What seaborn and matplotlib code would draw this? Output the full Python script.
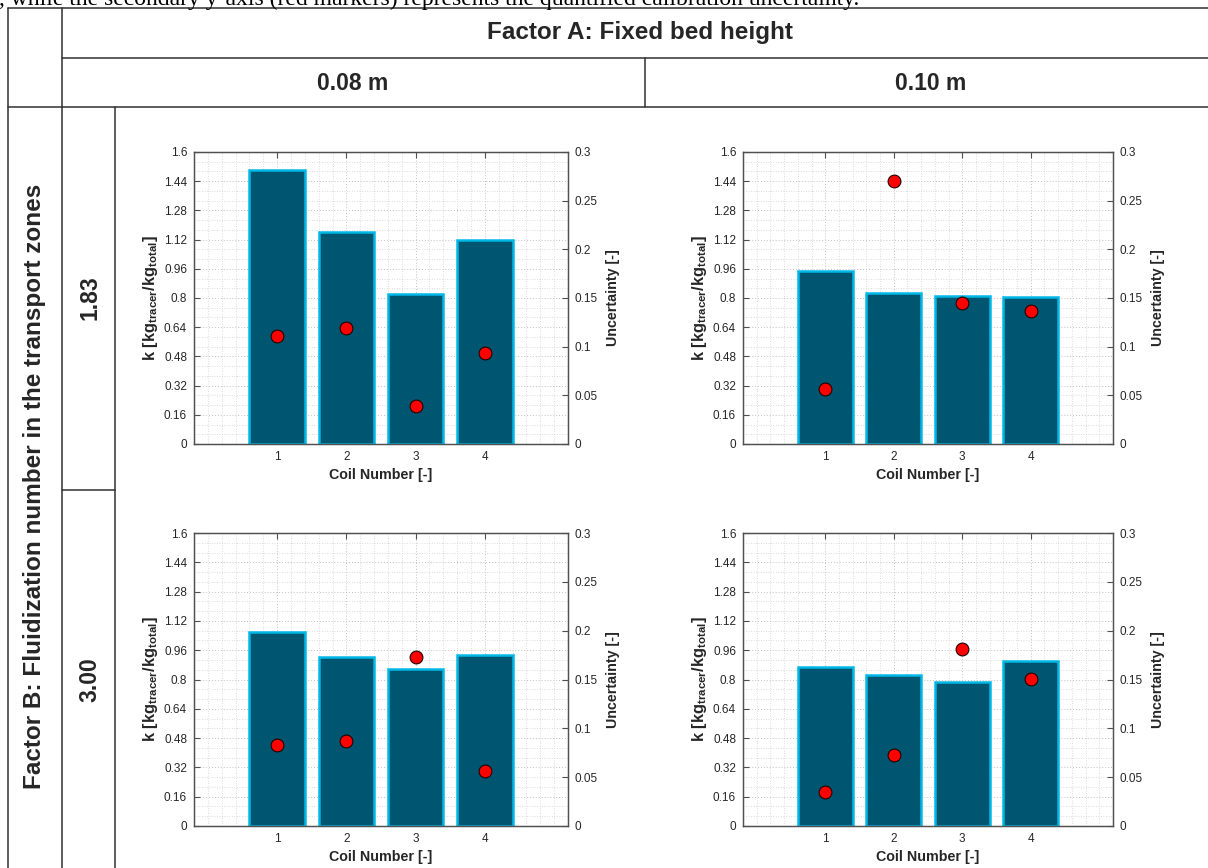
import numpy as np
import pandas as pd
import matplotlib
matplotlib.use("Agg")
import matplotlib.pyplot as plt
from matplotlib.lines import Line2D
from matplotlib.ticker import FuncFormatter, MultipleLocator
import seaborn as sns

# ---------------- data ----------------
coils = [1, 2, 3, 4]
height_levels = ["0.08 m", "0.10 m"]
fluid_levels = ["1.83", "3.00"]

k_008_183 = [1.50, 1.16, 0.82, 1.12]
unc_008_183 = [0.111, 0.119, 0.039, 0.094]
k_010_183 = [0.95, 0.83, 0.81, 0.805]
unc_010_183 = [0.057, 0.270, 0.145, 0.137]
k_008_300 = [1.058, 0.925, 0.859, 0.934]
unc_008_300 = [0.0825, 0.087, 0.173, 0.0565]
k_010_300 = [0.867, 0.827, 0.788, 0.901]
unc_010_300 = [0.0346, 0.0732, 0.181, 0.1505]

k_ticks = [0, 0.16, 0.32, 0.48, 0.64, 0.8, 0.96, 1.12, 1.28, 1.44, 1.6]
unc_ticks = [0, 0.05, 0.1, 0.15, 0.2, 0.25, 0.3]

caption = ", while the secondary y-axis (red markers) represents the quantified calibration uncertainty."
factor_a = "Factor A: Fixed bed height"
factor_b = "Factor B: Fluidization number in the transport zones"

# ---------------- style ----------------
sns.set_style("white")
plt.rcParams["font.family"] = ["Liberation Sans", "DejaVu Sans"]
plt.rcParams["mathtext.fontset"] = "custom"
plt.rcParams["mathtext.rm"] = "Liberation Sans"
plt.rcParams["mathtext.bf"] = "Liberation Sans:bold"
plt.rcParams["mathtext.it"] = "Liberation Sans:italic"

W, H = 1208, 868
fig = plt.figure(figsize=(W / 100, H / 100), dpi=100)
fig.patch.set_facecolor("white")


def fx(px):
    return px / W


def fy(py):
    return 1 - py / H


def line(x0, y0, x1, y1):
    fig.add_artist(Line2D([fx(x0), fx(x1)], [fy(y0), fy(y1)],
                          transform=fig.transFigure, color="#303030", lw=1.1))


# table grid
line(8, 8, W, 8)
line(8, 8, 8, H)
line(62, 8, 62, H)
line(62, 58, W, 58)
line(8, 107, W, 107)
line(645, 58, 645, 107)
line(115, 107, 115, H)
line(62, 490, 115, 490)

# header texts
fig.text(fx(-1), fy(4.5), caption, family="Liberation Serif", fontsize=17,
         ha="left", va="baseline", color="black")
fig.text(fx(640), fy(33), factor_a, fontsize=17.5, fontweight="bold",
         ha="center", va="center")
fig.text(fx(353), fy(83), height_levels[0], fontsize=16.5, fontweight="bold",
         ha="center", va="center")
fig.text(fx(931), fy(83), height_levels[1], fontsize=16.5, fontweight="bold",
         ha="center", va="center")
fig.text(fx(35), fy(486), factor_b, fontsize=17.5, fontweight="bold",
         ha="center", va="center", rotation=90)
fig.text(fx(90), fy(298), fluid_levels[0], fontsize=16.5, fontweight="bold",
         ha="center", va="center", rotation=90)
fig.text(fx(90), fy(680), fluid_levels[1], fontsize=16.5, fontweight="bold",
         ha="center", va="center", rotation=90)

BAR = "#005670"
EDGE = "#00B8E6"
TICKC = "#262626"
SPINE = "#505050"

panels = [
    ((194, 152, 568, 444), k_008_183, unc_008_183),
    ((743, 152, 1113, 444), k_010_183, unc_010_183),
    ((194, 533, 568, 826), k_008_300, unc_008_300),
    ((743, 533, 1113, 826), k_010_300, unc_010_300),
]

fmt = FuncFormatter(lambda v, p: f"{round(v, 3):g}")

for (x0, y0, x1, y1), kv, uv in panels:
    ax = fig.add_axes([fx(x0), fy(y1), (x1 - x0) / W, (y1 - y0) / H])
    df = pd.DataFrame({"coil": coils, "k": kv, "unc": uv})
    sns.barplot(data=df, x="coil", y="k", native_scale=True, ax=ax,
                color=BAR, saturation=1, width=0.8, edgecolor=EDGE,
                linewidth=1.8, errorbar=None, zorder=2)
    ax.set_xlim(-0.2, 5.2)
    ax.set_ylim(0, 1.6)
    ax.set_xticks(coils)
    ax.xaxis.set_minor_locator(MultipleLocator(0.2))
    ax.set_yticks(k_ticks)
    ax.yaxis.set_minor_locator(MultipleLocator(0.16 / 3))
    ax.yaxis.set_major_formatter(fmt)
    ax.set_axisbelow(True)
    ax.grid(which="major", color="#c0c0c0", linestyle=(0, (1, 2)), linewidth=0.7)
    ax.grid(which="minor", color="#d0d0d0", linestyle=(0, (1, 2)), linewidth=0.6)
    ax.tick_params(axis="both", which="major", direction="in", length=4,
                   labelsize=8.5, labelcolor=TICKC, color=SPINE, width=0.8, pad=5)
    ax.tick_params(axis="x", which="both", top=True)
    ax.tick_params(axis="both", which="minor", length=0)
    ax.tick_params(axis="y", which="major", right=False)
    for s in ax.spines.values():
        s.set_color(SPINE)
        s.set_linewidth(0.9)
    ax.set_xlabel("Coil Number [-]", fontsize=10.3, fontweight="bold", labelpad=4)
    ax.set_ylabel(r"$\mathbf{k\ [kg_{tracer}/kg_{total}]}$", fontsize=11.8, labelpad=3)

    ax2 = ax.twinx()
    sns.scatterplot(data=df, x="coil", y="unc", ax=ax2, color="#ff0000",
                    edgecolor="#200000", linewidth=0.8, s=85, zorder=4, legend=False)
    ax2.set_xlim(-0.2, 5.2)
    ax2.set_ylim(0, 0.3)
    ax2.set_yticks(unc_ticks)
    ax2.yaxis.set_major_formatter(fmt)
    ax2.tick_params(axis="y", direction="in", length=4, labelsize=8.5,
                    labelcolor=TICKC, color=SPINE, width=0.8, pad=5)
    for s in ax2.spines.values():
        s.set_color(SPINE)
        s.set_linewidth(0.9)
    ax2.set_xlabel("")
    ax2.set_ylabel("Uncertainty [-]", fontsize=10.3, fontweight="bold", labelpad=6)

fig.savefig("out.png", dpi=100, facecolor="white")
